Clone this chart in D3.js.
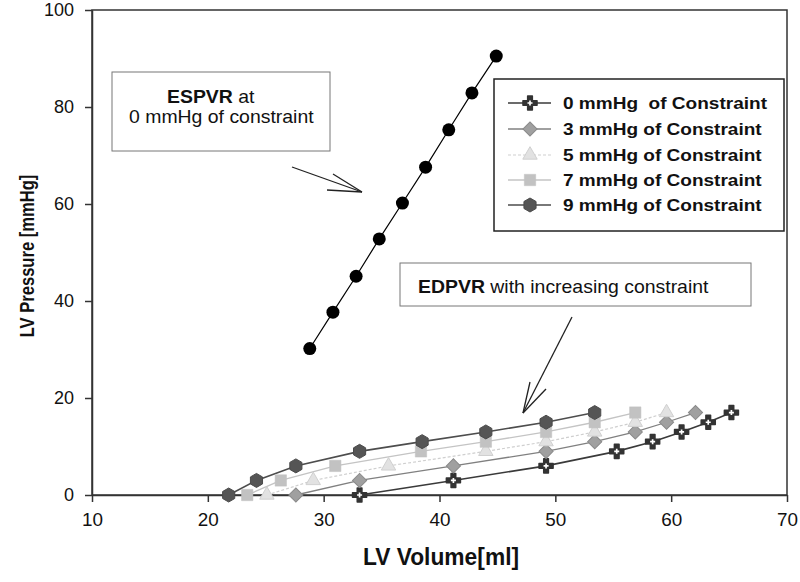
<!DOCTYPE html>
<html>
<head>
<meta charset="utf-8">
<script src="https://cdn.jsdelivr.net/npm/d3@7"></script>
<style>
  html, body { margin: 0; padding: 0; background: #fff; }
  svg { display: block; }
  text { font-family: "Liberation Sans", Arial, sans-serif; }
</style>
</head>
<body>
<svg id="chart" width="800" height="582"></svg>
<script>
// ---------------- data ----------------
const xTicks = [10, 20, 30, 40, 50, 60, 70];
const yTicks = [0, 20, 40, 60, 80, 100];

const espvrVolume   = [28.8, 30.8, 32.8, 34.8, 36.8, 38.8, 40.8, 42.8, 44.9];
const espvrPressure = [30.2, 37.7, 45.1, 52.8, 60.2, 67.6, 75.3, 82.9, 90.5];

const seriesNames = ["0 mmHg  of Constraint", "3 mmHg of Constraint", "5 mmHg of Constraint",
                     "7 mmHg of Constraint", "9 mmHg of Constraint"];

const vol0  = [33.1, 41.2, 49.2, 55.3, 58.4, 60.9, 63.2, 65.2];
const pres0 = [0, 3, 6, 9, 11, 13, 15, 17];
const vol3  = [27.6, 33.1, 41.2, 49.2, 53.4, 56.9, 59.6, 62.1];
const pres3 = [0, 3, 6, 9, 11, 13, 15, 17];
const vol5  = [25.1, 29.1, 35.6, 44.0, 49.2, 53.4, 56.9, 59.6];
const pres5 = [0, 3, 6, 9, 11, 13, 15, 17];
const vol7  = [23.4, 26.3, 31.0, 38.4, 44.0, 49.2, 53.4, 56.9];
const pres7 = [0, 3, 6, 9, 11, 13, 15, 17];
const vol9  = [21.8, 24.2, 27.6, 33.1, 38.5, 44.0, 49.2, 53.4];
const pres9 = [0, 3, 6, 9, 11, 13, 15, 17];

const xTitle = "LV Volume[ml]";
const yTitle = "LV Pressure [mmHg]";

// ---------------- layout ----------------
const svg = d3.select("#chart");
const L = 92, R = 787, T = 10, B = 495;
const x = d3.scaleLinear().domain([10, 70]).range([L, R]);
const y = d3.scaleLinear().domain([0, 100]).range([B, T]);

// frame
svg.append("rect").attr("x", L).attr("y", T).attr("width", R - L).attr("height", B - T)
  .attr("fill", "none").attr("stroke", "#333").attr("stroke-width", 1.5);

// axes
const gx = svg.append("g").attr("transform", `translate(0,${B})`)
  .call(d3.axisBottom(x).tickValues(xTicks).tickSize(7).tickSizeOuter(0).tickPadding(11));
const gy = svg.append("g").attr("transform", `translate(${L},0)`)
  .call(d3.axisLeft(y).tickValues(yTicks).tickSize(7).tickSizeOuter(0).tickPadding(11));
[gx, gy].forEach(g => {
  g.select(".domain").attr("stroke", "#333").attr("stroke-width", 1.5);
  g.selectAll(".tick line").attr("stroke", "#333").attr("stroke-width", 1.5);
  g.selectAll(".tick text").attr("fill", "#111").style("font-size", "18px")
    .style("font-family", "'Liberation Sans', Arial, sans-serif");
});
gx.selectAll(".tick text").attr("transform", "scale(1.05,1)");

// axis titles
svg.append("text").attr("transform", "translate(441,565) scale(0.95,1)")
  .attr("text-anchor", "middle").style("font-size", "24px").style("font-weight", "bold")
  .attr("fill", "#111").text(xTitle);
svg.append("text").attr("transform", "translate(34,256) rotate(-90) scale(0.85,1)")
  .attr("text-anchor", "middle").style("font-size", "19.5px").style("font-weight", "bold")
  .attr("fill", "#111").text(yTitle);

// ---------------- EDPVR series ----------------
const styles = [
  { vol: vol0, pres: pres0, line: "#3a3a3a", lw: 1.6, dash: null, marker: "cross" },
  { vol: vol3, pres: pres3, line: "#808080", lw: 1.3, dash: null, marker: "diamond" },
  { vol: vol5, pres: pres5, line: "#cfcfcf", lw: 1.2, dash: "3,2", marker: "triangle" },
  { vol: vol7, pres: pres7, line: "#c4c4c4", lw: 1.3, dash: null, marker: "square" },
  { vol: vol9, pres: pres9, line: "#4d4d4d", lw: 1.6, dash: null, marker: "hex" }
];

const lineGen = d3.line().x(d => x(d[0])).y(d => y(d[1]));

function drawMarker(g, type, cx, cy) {
  const m = g.append("g").attr("transform", `translate(${cx},${cy})`);
  if (type === "cross") {
    m.append("path").attr("d", d3.symbol(d3.symbolCross, 110)())
      .attr("fill", "#333").attr("stroke", "#333").attr("stroke-width", 1.5).attr("stroke-linejoin", "round");
    m.append("path").attr("d", d3.symbol(d3.symbolCross, 14)()).attr("fill", "#fff");
  } else if (type === "diamond") {
    m.append("path").attr("d", d3.symbol(d3.symbolSquare, 100)()).attr("transform", "rotate(45)")
      .attr("fill", "#a0a0a0").attr("stroke", "#8a8a8a").attr("stroke-width", 1);
  } else if (type === "triangle") {
    m.append("path").attr("d", d3.symbol(d3.symbolTriangle, 90)())
      .attr("fill", "#e2e2e2").attr("stroke", "#d0d0d0").attr("stroke-width", 1);
  } else if (type === "square") {
    m.append("path").attr("d", d3.symbol(d3.symbolSquare, 130)())
      .attr("fill", "#c2c2c2").attr("stroke", "#c2c2c2").attr("stroke-width", 0.5);
  } else if (type === "hex") {
    const r = 7;
    const pts = d3.range(6).map(i => [r * Math.cos(Math.PI / 6 + i * Math.PI / 3), r * Math.sin(Math.PI / 6 + i * Math.PI / 3)]);
    m.append("path").attr("d", "M" + pts.join("L") + "Z")
      .attr("fill", "#555").attr("stroke", "#4a4a4a").attr("stroke-width", 1);
  } else if (type === "dot") {
    m.append("circle").attr("r", 6.5).attr("fill", "#000");
  }
}

const gSeries = svg.append("g");
styles.forEach(s => {
  const pts = s.vol.map((v, i) => [v, s.pres[i]]);
  gSeries.append("path").datum(pts).attr("d", lineGen).attr("fill", "none")
    .attr("stroke", s.line).attr("stroke-width", s.lw).attr("stroke-dasharray", s.dash);
});
styles.forEach(s => {
  s.vol.forEach((v, i) => drawMarker(gSeries, s.marker, x(v), y(s.pres[i])));
});

// ---------------- ESPVR ----------------
const esp = espvrVolume.map((v, i) => [v, espvrPressure[i]]);
svg.append("path").datum(esp).attr("d", lineGen).attr("fill", "none")
  .attr("stroke", "#000").attr("stroke-width", 1.2);
esp.forEach(d => drawMarker(svg, "dot", x(d[0]), y(d[1])));

// ---------------- legend ----------------
const lg = svg.append("g");
lg.append("rect").attr("x", 494).attr("y", 79).attr("width", 290).attr("height", 152)
  .attr("fill", "#fff").attr("stroke", "#222").attr("stroke-width", 1.5);
const rowY = [103, 129, 155, 180, 205];
styles.forEach((s, i) => {
  const yy = rowY[i];
  lg.append("line").attr("x1", 508).attr("x2", 551).attr("y1", yy).attr("y2", yy)
    .attr("stroke", s.line).attr("stroke-width", s.lw).attr("stroke-dasharray", s.dash);
  drawMarker(lg, s.marker, 530, yy);
  lg.append("text").attr("transform", `translate(563,${yy + 6}) scale(1.12,1)`)
    .style("font-size", "17px").style("font-weight", "bold").attr("fill", "#111")
    .style("white-space", "pre").attr("xml:space", "preserve").text(seriesNames[i]);
});

// ---------------- annotations ----------------
svg.append("rect").attr("x", 112).attr("y", 72).attr("width", 218).attr("height", 79)
  .attr("fill", "#fff").attr("stroke", "#777").attr("stroke-width", 1);
const t1 = svg.append("text").attr("transform", "translate(167,103) scale(1.08,1)")
  .style("font-size", "18px").attr("fill", "#111");
t1.append("tspan").style("font-weight", "bold").text("ESPVR");
t1.append("tspan").text(" at");
svg.append("text").attr("transform", "translate(129,123) scale(1.08,1)")
  .style("font-size", "18px").attr("fill", "#111").text("0 mmHg of constraint");

svg.append("rect").attr("x", 400).attr("y", 263).attr("width", 351).attr("height", 43)
  .attr("fill", "#fff").attr("stroke", "#777").attr("stroke-width", 1);
const t2 = svg.append("text").attr("transform", "translate(418,293) scale(1.08,1)")
  .style("font-size", "18px").attr("fill", "#111");
t2.append("tspan").style("font-weight", "bold").text("EDPVR");
t2.append("tspan").text(" with increasing constraint");

// arrows (shaft + two barbs)
const arrows = [
  { from: [292, 167], tip: [362, 192], b1: [333, 174], b2: [327, 190] },
  { from: [572, 317], tip: [523, 413], b1: [530, 382], b2: [546, 389] }
];
arrows.forEach(a => {
  const g = svg.append("g").attr("stroke", "#222").attr("stroke-width", 1.3).attr("fill", "none");
  g.append("line").attr("x1", a.from[0]).attr("y1", a.from[1]).attr("x2", a.tip[0]).attr("y2", a.tip[1]);
  g.append("line").attr("x1", a.b1[0]).attr("y1", a.b1[1]).attr("x2", a.tip[0]).attr("y2", a.tip[1]);
  g.append("line").attr("x1", a.b2[0]).attr("y1", a.b2[1]).attr("x2", a.tip[0]).attr("y2", a.tip[1]);
});
</script>
</body>
</html>
